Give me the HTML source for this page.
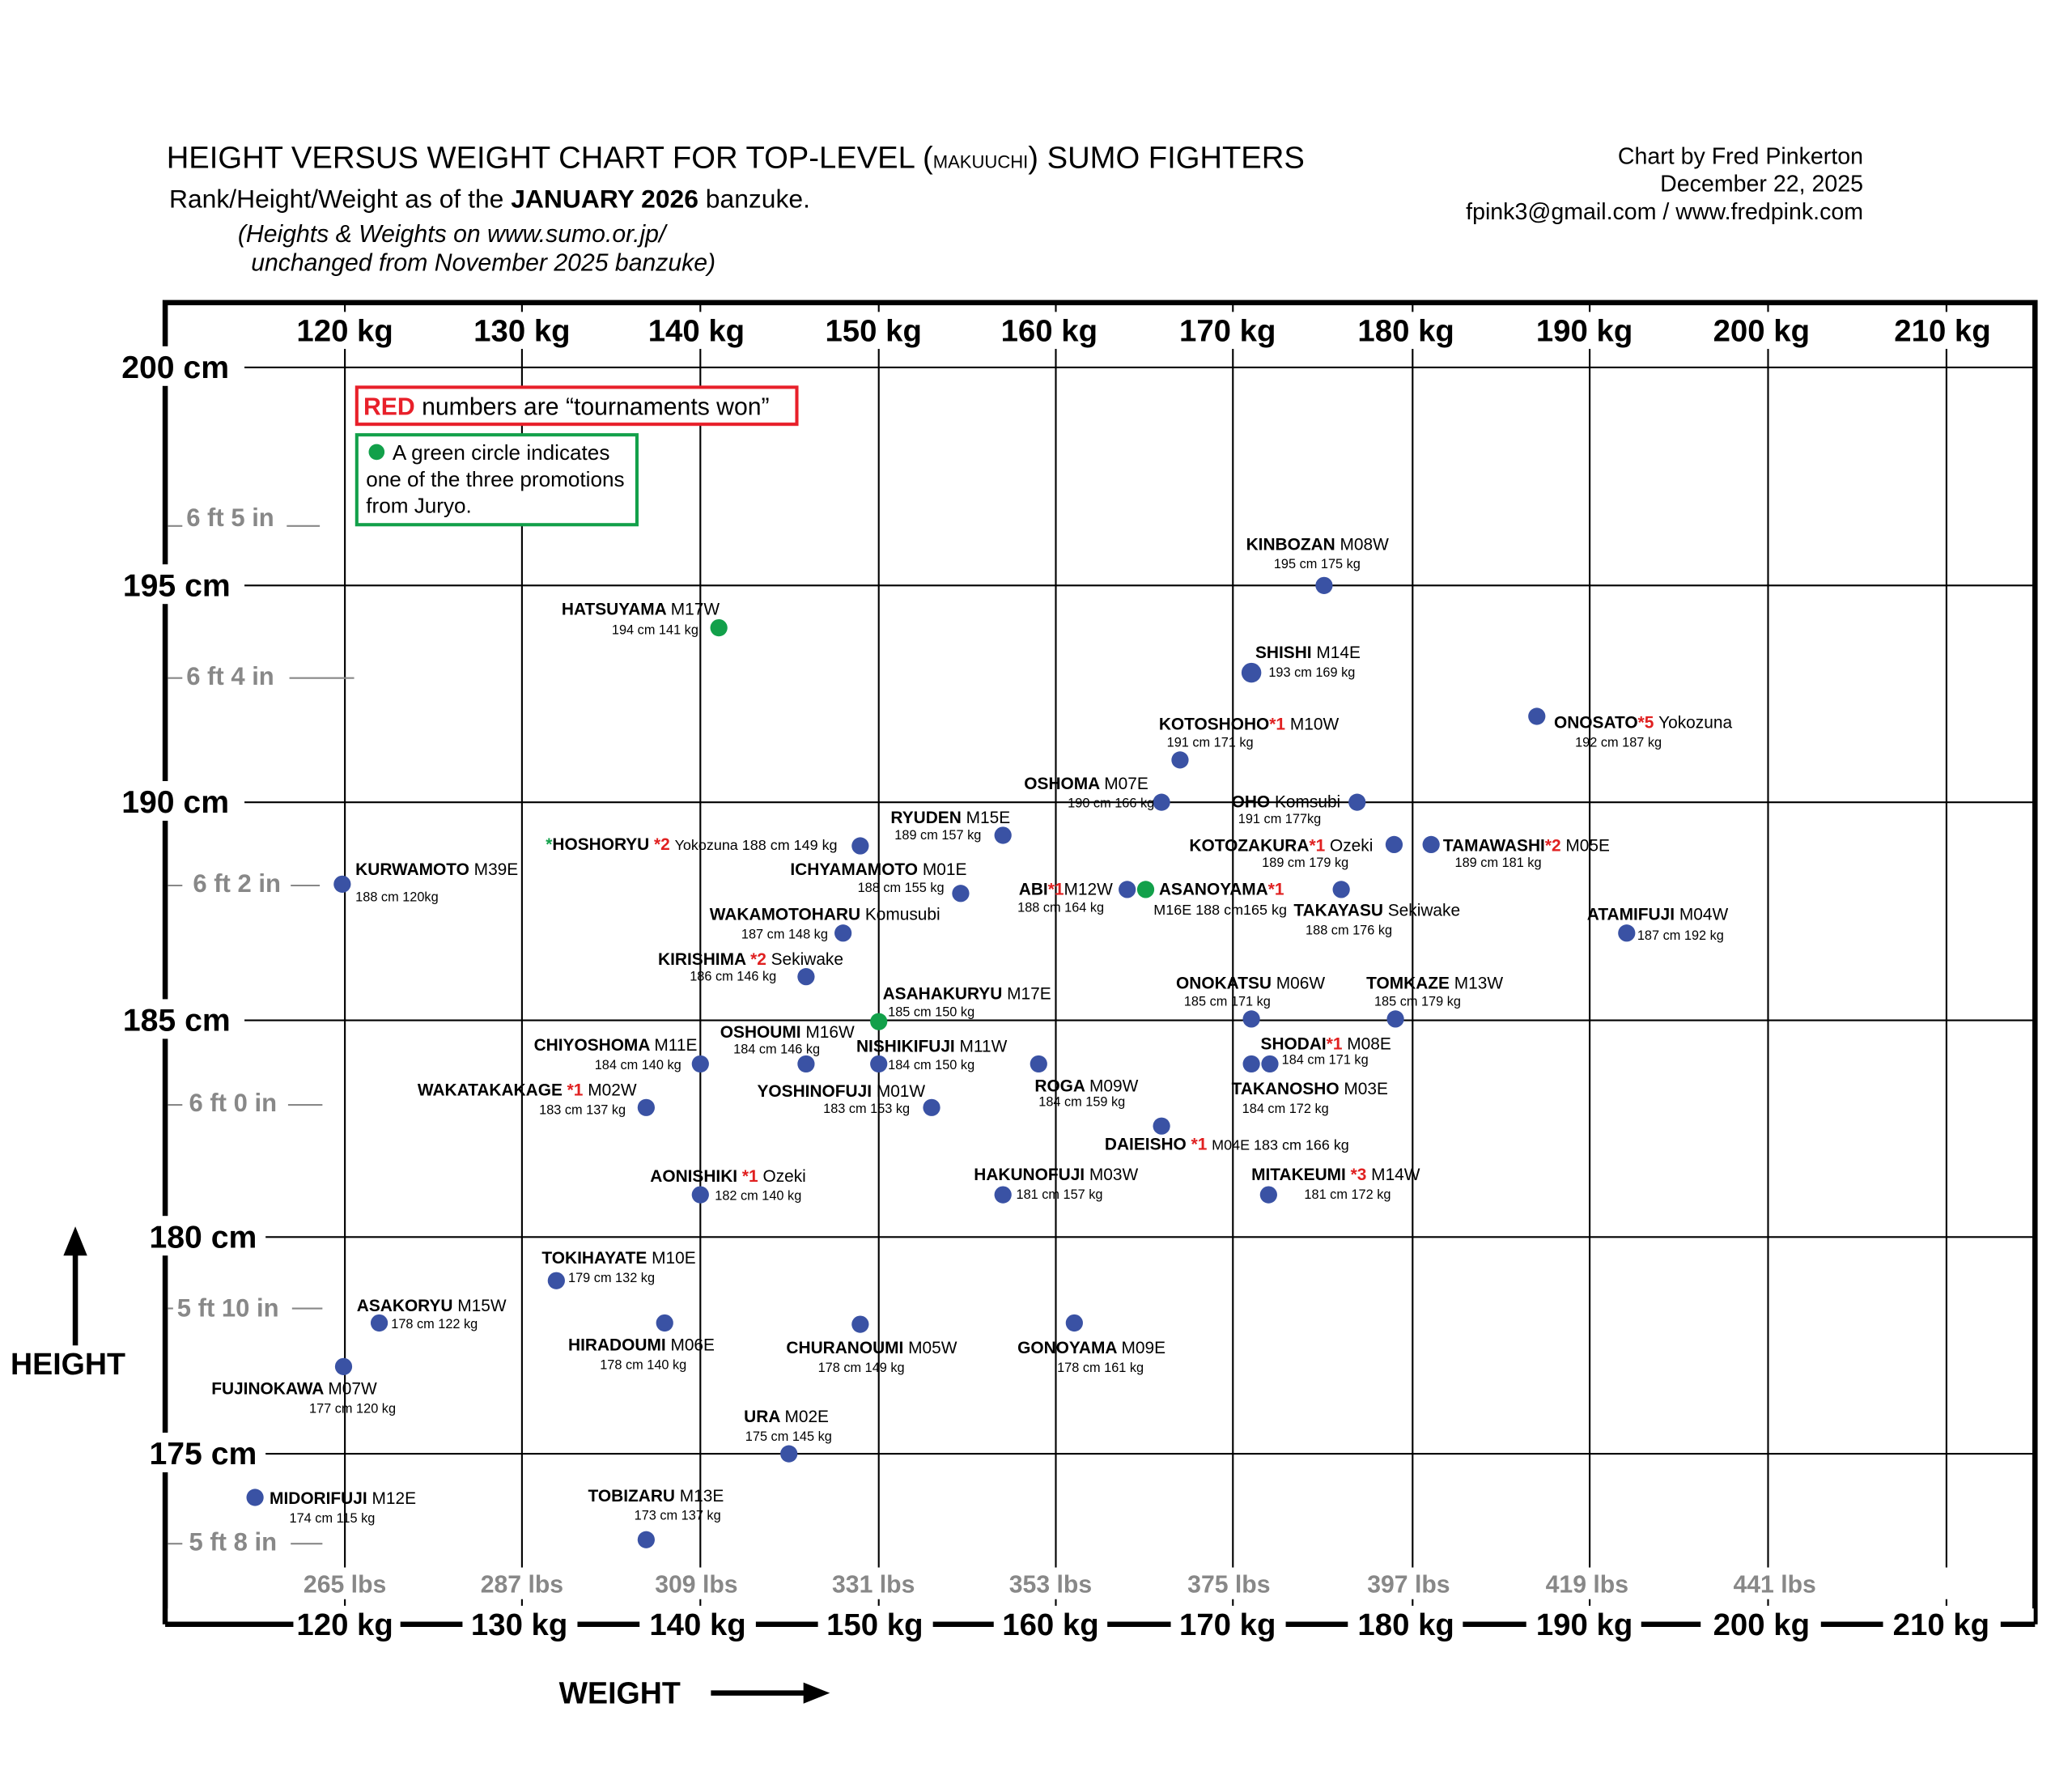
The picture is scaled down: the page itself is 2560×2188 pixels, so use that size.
<!DOCTYPE html>
<html><head><meta charset="utf-8"><style>
html,body{margin:0;padding:0;background:#fff}
svg{display:block}
text{font-family:"Liberation Sans Narrow","Liberation Sans",sans-serif}
.n{font-size:12.8px;font-weight:bold}
.r{font-weight:normal}
.s{font-size:10px}
.red{fill:#e02020}
.ax{font-size:23.5px;font-weight:bold}
.cm{font-size:24px;font-weight:bold}
.ft{font-size:19px;font-weight:bold;fill:#888}
.lb{font-size:18.5px;font-weight:bold;fill:#888}
.g{stroke:#000;stroke-width:1.3}
</style></head><body>
<svg width="2560" height="2188" viewBox="0 0 1568 1340" preserveAspectRatio="none">
<rect width="1568" height="1340" fill="#fff"/>
<!-- titles -->
<text x="126" y="127" font-size="23.4">HEIGHT VERSUS WEIGHT CHART FOR TOP-LEVEL (<tspan font-size="13.5">MAKUUCHI</tspan>) SUMO FIGHTERS</text>
<text x="128" y="157" font-size="19.5">Rank/Height/Weight as of the <tspan font-weight="bold">JANUARY 2026</tspan> banzuke.</text>
<text x="180" y="183" font-size="18.5" font-style="italic">(Heights &amp; Weights on www.sumo.or.jp/</text>
<text x="190" y="205" font-size="18.5" font-style="italic">unchanged from November 2025 banzuke)</text>
<text x="1410" y="124" font-size="17.5" text-anchor="end">Chart by Fred Pinkerton</text>
<text x="1410" y="145" font-size="17.5" text-anchor="end">December 22, 2025</text>
<text x="1410" y="166" font-size="17.5" text-anchor="end">fpink3@gmail.com / www.fredpink.com</text>

<!-- frame -->
<path d="M125,1229 V229 H1540 V1229" fill="none" stroke="#000" stroke-width="4"/>
<g class="g">
<line x1="261" y1="229" x2="261" y2="1215"/><line x1="395" y1="229" x2="395" y2="1215"/>
<line x1="530" y1="229" x2="530" y2="1215"/><line x1="665" y1="229" x2="665" y2="1215"/>
<line x1="799" y1="229" x2="799" y2="1215"/><line x1="933" y1="229" x2="933" y2="1215"/>
<line x1="1069" y1="229" x2="1069" y2="1215"/><line x1="1203" y1="229" x2="1203" y2="1215"/>
<line x1="1338" y1="229" x2="1338" y2="1215"/><line x1="1473" y1="229" x2="1473" y2="1215"/>
</g>
<g fill="#fff">
<rect x="222" y="236" width="1290" height="28"/>
<rect x="222" y="1186" width="1290" height="24"/>
</g>
<g class="ax" text-anchor="middle">
<text x="261" y="258">120 kg</text><text x="395" y="258">130 kg</text><text x="527" y="258">140 kg</text>
<text x="661" y="258">150 kg</text><text x="794" y="258">160 kg</text><text x="929" y="258">170 kg</text>
<text x="1064" y="258">180 kg</text><text x="1199" y="258">190 kg</text><text x="1333" y="258">200 kg</text>
<text x="1470" y="258">210 kg</text>
</g>
<g class="g">
<line x1="183" y1="278" x2="1540" y2="278"/><line x1="183" y1="443" x2="1540" y2="443"/>
<line x1="183" y1="607" x2="1540" y2="607"/><line x1="183" y1="772" x2="1540" y2="772"/>
<line x1="201" y1="936" x2="1540" y2="936"/><line x1="201" y1="1100" x2="1540" y2="1100"/>
</g>
<rect x="85" y="262" width="100" height="30" fill="#fff"/>
<rect x="85" y="427" width="100" height="30" fill="#fff"/>
<rect x="85" y="591" width="100" height="30" fill="#fff"/>
<rect x="85" y="756" width="100" height="30" fill="#fff"/>
<rect x="100" y="920" width="100" height="30" fill="#fff"/>
<rect x="100" y="1084" width="100" height="30" fill="#fff"/>
<g class="cm">
<text x="92" y="286">200 cm</text><text x="93" y="451">195 cm</text><text x="92" y="615">190 cm</text>
<text x="93" y="780">185 cm</text><text x="113" y="944">180 cm</text><text x="113" y="1108">175 cm</text>
</g>
<g stroke="#888" stroke-width="1.3">
<line x1="127" y1="398" x2="138" y2="398"/><line x1="217" y1="398" x2="242" y2="398"/>
<line x1="127" y1="513" x2="138" y2="513"/><line x1="219" y1="513" x2="268" y2="513"/>
<line x1="127" y1="670" x2="138" y2="670"/><line x1="220" y1="670" x2="242" y2="670"/>
<line x1="127" y1="836" x2="138" y2="836"/><line x1="218" y1="836" x2="244" y2="836"/>
<line x1="127" y1="990" x2="131" y2="990"/><line x1="221" y1="990" x2="244" y2="990"/>
<line x1="127" y1="1168" x2="138" y2="1168"/><line x1="220" y1="1168" x2="244" y2="1168"/>
</g>
<g class="ft">
<text x="141" y="398">6 ft 5 in</text><text x="141" y="518">6 ft 4 in</text><text x="146" y="675">6 ft 2 in</text>
<text x="143" y="841">6 ft 0 in</text><text x="134" y="996">5 ft 10 in</text><text x="143" y="1173">5 ft 8 in</text>
</g>
<g class="lb" text-anchor="middle">
<text x="261" y="1205">265 lbs</text><text x="395" y="1205">287 lbs</text><text x="527" y="1205">309 lbs</text>
<text x="661" y="1205">331 lbs</text><text x="795" y="1205">353 lbs</text><text x="930" y="1205">375 lbs</text>
<text x="1066" y="1205">397 lbs</text><text x="1201" y="1205">419 lbs</text><text x="1343" y="1205">441 lbs</text>
</g>
<rect x="127" y="1217" width="1412" height="24" fill="#fff"/>
<g stroke="#000" stroke-width="4">
<line x1="125" y1="1229" x2="222" y2="1229"/><line x1="303" y1="1229" x2="350" y2="1229"/>
<line x1="437" y1="1229" x2="484" y2="1229"/><line x1="572" y1="1229" x2="619" y2="1229"/>
<line x1="706" y1="1229" x2="752" y2="1229"/><line x1="838" y1="1229" x2="886" y2="1229"/>
<line x1="973" y1="1229" x2="1020" y2="1229"/><line x1="1107" y1="1229" x2="1155" y2="1229"/>
<line x1="1242" y1="1229" x2="1287" y2="1229"/><line x1="1378" y1="1229" x2="1425" y2="1229"/>
<line x1="1514" y1="1229" x2="1540" y2="1229"/>
</g>
<g class="ax" text-anchor="middle">
<text x="261" y="1237">120 kg</text><text x="393" y="1237">130 kg</text><text x="528" y="1237">140 kg</text>
<text x="662" y="1237">150 kg</text><text x="795" y="1237">160 kg</text><text x="929" y="1237">170 kg</text>
<text x="1064" y="1237">180 kg</text><text x="1199" y="1237">190 kg</text><text x="1333" y="1237">200 kg</text>
<text x="1469" y="1237">210 kg</text>
</g>
<line x1="57" y1="1018" x2="57" y2="945" stroke="#000" stroke-width="4"/>
<polygon points="57,928 48,950 66,950" fill="#000"/>
<text x="8" y="1040" font-size="23" font-weight="bold">HEIGHT</text>
<text x="423" y="1289" font-size="23" font-weight="bold">WEIGHT</text>
<line x1="538" y1="1281" x2="612" y2="1281" stroke="#000" stroke-width="4"/>
<polygon points="628,1281 608,1273 608,1289" fill="#000"/>
<rect x="270" y="293" width="333" height="28" fill="#fff" stroke="#e8202a" stroke-width="2.5"/>
<text x="275" y="314" font-size="18.5"><tspan fill="#e8202a" font-weight="bold">RED</tspan> numbers are “tournaments won”</text>
<rect x="270" y="329" width="212" height="68" fill="#fff" stroke="#12a04a" stroke-width="2.5"/>
<circle cx="285" cy="342" r="6" fill="#12a04a"/>
<text x="297" y="348" font-size="16">A green circle indicates</text>
<text x="277" y="368" font-size="16">one of the three promotions</text>
<text x="277" y="388" font-size="16">from Juryo.</text>

<g fill="#3a52a4">
<circle cx="1002" cy="443" r="6.5"/><circle cx="947" cy="509" r="7.5"/><circle cx="1163" cy="542" r="6.5"/>
<circle cx="893" cy="575" r="6.5"/><circle cx="879" cy="607" r="6.5"/><circle cx="1027" cy="607" r="6.5"/>
<circle cx="759" cy="632" r="6.5"/><circle cx="651" cy="640" r="6.5"/><circle cx="1055" cy="639" r="6.5"/>
<circle cx="1083" cy="639" r="6.5"/><circle cx="259" cy="669" r="6.5"/><circle cx="727" cy="676" r="6.5"/>
<circle cx="853" cy="673" r="6.5"/><circle cx="1015" cy="673" r="6.5"/><circle cx="1231" cy="706" r="6.5"/>
<circle cx="638" cy="706" r="6.5"/><circle cx="610" cy="739" r="6.5"/><circle cx="947" cy="771" r="6.5"/>
<circle cx="1056" cy="771" r="6.5"/><circle cx="530" cy="805" r="6.5"/><circle cx="610" cy="805" r="6.5"/>
<circle cx="665" cy="805" r="6.5"/><circle cx="786" cy="805" r="6.5"/><circle cx="947" cy="805" r="6.5"/>
<circle cx="961" cy="805" r="6.5"/><circle cx="489" cy="838" r="6.5"/><circle cx="705" cy="838" r="6.5"/>
<circle cx="879" cy="852" r="6.5"/><circle cx="530" cy="904" r="6.5"/><circle cx="759" cy="904" r="6.5"/>
<circle cx="960" cy="904" r="6.5"/><circle cx="421" cy="969" r="6.5"/><circle cx="287" cy="1001" r="6.5"/>
<circle cx="503" cy="1001" r="6.5"/><circle cx="651" cy="1002" r="6.5"/><circle cx="813" cy="1001" r="6.5"/>
<circle cx="260" cy="1034" r="6.5"/><circle cx="597" cy="1100" r="6.5"/><circle cx="193" cy="1133" r="6.5"/>
<circle cx="489" cy="1165" r="6.5"/>
</g>
<g fill="#12a04a">
<circle cx="544" cy="475" r="6.5"/><circle cx="867" cy="673" r="6.5"/><circle cx="665" cy="773" r="6.5"/>
</g>

<g class="n">
<text x="943" y="416">KINBOZAN <tspan class="r">M08W</tspan></text>
<text x="425" y="465">HATSUYAMA <tspan class="r">M17W</tspan></text>
<text x="950" y="498">SHISHI <tspan class="r">M14E</tspan></text>
<text x="1176" y="551">ONOSATO<tspan class="red">*5</tspan> <tspan class="r"> Yokozuna</tspan></text>
<text x="877" y="552">KOTOSHOHO<tspan class="red">*1</tspan> <tspan class="r">M10W</tspan></text>
<text x="775" y="597">OSHOMA <tspan class="r">M07E</tspan></text>
<text x="932" y="611">OHO <tspan class="r">Komsubi</tspan></text>
<text x="674" y="623">RYUDEN <tspan class="r">M15E</tspan></text>
<text x="413" y="643"><tspan fill="#12a04a">*</tspan>HOSHORYU <tspan class="red">*2</tspan> <tspan class="r" font-size="11">Yokozuna 188 cm  149 kg</tspan></text>
<text x="900" y="644">KOTOZAKURA<tspan class="red">*1</tspan> <tspan class="r">Ozeki</tspan></text>
<text x="1092" y="644">TAMAWASHI<tspan class="red">*2</tspan> <tspan class="r">M05E</tspan></text>
<text x="269" y="662">KURWAMOTO <tspan class="r">M39E</tspan></text>
<text x="598" y="662">ICHYAMAMOTO <tspan class="r">M01E</tspan></text>
<text x="771" y="677">ABI<tspan class="red">*1</tspan><tspan class="r">M12W</tspan></text>
<text x="877" y="677">ASANOYAMA<tspan class="red">*1</tspan></text>
<text x="979" y="693">TAKAYASU <tspan class="r">Sekiwake</tspan></text>
<text x="1201" y="696">ATAMIFUJI <tspan class="r">M04W</tspan></text>
<text x="537" y="696">WAKAMOTOHARU <tspan class="r">Komusubi</tspan></text>
<text x="498" y="730">KIRISHIMA <tspan class="red">*2</tspan> <tspan class="r">Sekiwake</tspan></text>
<text x="668" y="756">ASAHAKURYU <tspan class="r">M17E</tspan></text>
<text x="890" y="748">ONOKATSU <tspan class="r">M06W</tspan></text>
<text x="1034" y="748">TOMKAZE <tspan class="r"> M13W</tspan></text>
<text x="404" y="795">CHIYOSHOMA <tspan class="r">M11E</tspan></text>
<text x="545" y="785">OSHOUMI <tspan class="r">M16W</tspan></text>
<text x="648" y="796">NISHIKIFUJI <tspan class="r">M11W</tspan></text>
<text x="783" y="826">ROGA <tspan class="r"> M09W</tspan></text>
<text x="954" y="794">SHODAI<tspan class="red">*1</tspan> <tspan class="r">M08E</tspan></text>
<text x="932" y="828">TAKANOSHO <tspan class="r">M03E</tspan></text>
<text x="316" y="829">WAKATAKAKAGE <tspan class="red">*1</tspan> <tspan class="r">M02W</tspan></text>
<text x="573" y="830">YOSHINOFUJI <tspan class="r">M01W</tspan></text>
<text x="836" y="870">DAIEISHO <tspan class="red">*1</tspan> <tspan class="r" font-size="11"> M04E 183 cm 166 kg</tspan></text>
<text x="492" y="894">AONISHIKI <tspan class="red">*1</tspan> <tspan class="r">Ozeki</tspan></text>
<text x="737" y="893">HAKUNOFUJI <tspan class="r">M03W</tspan></text>
<text x="947" y="893">MITAKEUMI <tspan class="red">*3</tspan> <tspan class="r">M14W</tspan></text>
<text x="410" y="956">TOKIHAYATE <tspan class="r">M10E</tspan></text>
<text x="270" y="992">ASAKORYU <tspan class="r">M15W</tspan></text>
<text x="430" y="1022">HIRADOUMI <tspan class="r">M06E</tspan></text>
<text x="595" y="1024">CHURANOUMI <tspan class="r">M05W</tspan></text>
<text x="770" y="1024">GONOYAMA <tspan class="r">M09E</tspan></text>
<text x="160" y="1055">FUJINOKAWA <tspan class="r">M07W</tspan></text>
<text x="563" y="1076">URA <tspan class="r"> M02E</tspan></text>
<text x="204" y="1138">MIDORIFUJI <tspan class="r">M12E</tspan></text>
<text x="445" y="1136">TOBIZARU <tspan class="r">M13E</tspan></text>
</g>
<g class="s">
<text x="964" y="430">195 cm  175 kg</text>
<text x="463" y="480">194 cm  141 kg</text>
<text x="960" y="512">193 cm  169 kg</text>
<text x="1192" y="565">192 cm  187 kg</text>
<text x="883" y="565">191 cm  171 kg</text>
<text x="808" y="611">190 cm 166 kg</text>
<text x="937" y="623">191 cm  177kg</text>
<text x="677" y="635">189 cm  157 kg</text>
<text x="955" y="656">189 cm  179 kg</text>
<text x="1101" y="656">189 cm  181 kg</text>
<text x="269" y="682">188 cm  120kg</text>
<text x="649" y="675">188 cm  155 kg</text>
<text x="770" y="690">188 cm  164 kg</text>
<text x="873" y="692" font-size="11">M16E 188 cm165 kg</text>
<text x="988" y="707">188 cm  176 kg</text>
<text x="1239" y="711">187 cm  192 kg</text>
<text x="561" y="710">187 cm  148 kg</text>
<text x="522" y="742">186 cm  146 kg</text>
<text x="672" y="769">185 cm  150 kg</text>
<text x="896" y="761">185 cm  171 kg</text>
<text x="1040" y="761">185 cm  179 kg</text>
<text x="450" y="809">184 cm  140 kg</text>
<text x="555" y="797">184 cm  146 kg</text>
<text x="672" y="809">184 cm  150 kg</text>
<text x="786" y="837">184 cm  159 kg</text>
<text x="970" y="805">184 cm  171 kg</text>
<text x="940" y="842">184 cm  172 kg</text>
<text x="408" y="843">183 cm  137 kg</text>
<text x="623" y="842">183 cm  153 kg</text>
<text x="541" y="908">182 cm  140 kg</text>
<text x="769" y="907">181 cm  157 kg</text>
<text x="987" y="907">181 cm  172 kg</text>
<text x="430" y="970">179 cm  132 kg</text>
<text x="296" y="1005">178 cm 122 kg</text>
<text x="454" y="1036">178 cm  140 kg</text>
<text x="619" y="1038">178 cm  149 kg</text>
<text x="800" y="1038">178 cm  161 kg</text>
<text x="234" y="1069">177 cm  120 kg</text>
<text x="564" y="1090">175 cm  145 kg</text>
<text x="219" y="1152">174 cm  115 kg</text>
<text x="480" y="1150">173 cm  137 kg</text>
</g>
</svg>
</body></html>
